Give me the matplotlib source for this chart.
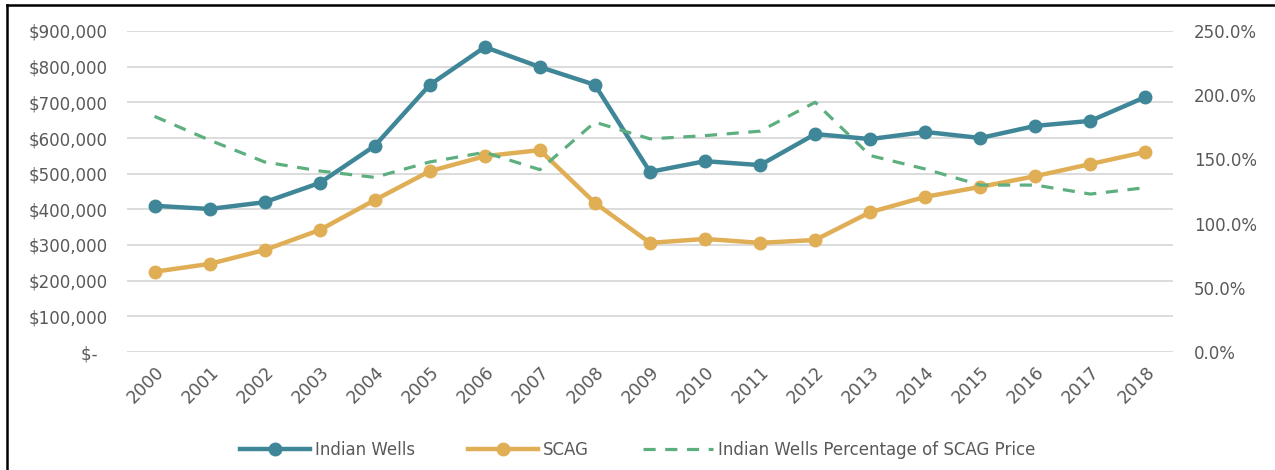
import matplotlib
matplotlib.use("Agg")
import matplotlib.pyplot as plt
from matplotlib.lines import Line2D
from matplotlib.ticker import FuncFormatter, MultipleLocator

years = [str(y) for y in range(2000, 2019)]
indian_wells = [410000, 401000, 420000, 474000, 578000, 749000, 855000, 799000, 749000,
                505000, 535000, 524000, 611000, 597000, 617000, 600000, 634000, 648000, 715000]
scag = [225000, 247000, 286000, 342000, 426000, 507000, 549000, 566000, 418000,
        306000, 317000, 306000, 314000, 392000, 435000, 463000, 493000, 527000, 561000]
pct_of_scag = [183.5, 165.0, 148.0, 141.0, 136.0, 148.0, 155.5, 142.0, 179.0,
               166.0, 168.5, 172.0, 194.5, 153.0, 142.5, 130.0, 130.0, 123.0, 128.0]

teal = "#3F8798"
gold = "#E0AE55"
green = "#5DAF7F"
gray = "#595959"

plt.rcParams['font.family'] = ['DejaVu Sans']

fig = plt.figure(figsize=(12.75, 4.7), dpi=100)
ax = fig.add_axes([127 / 1275, 118 / 470, (1173 - 127) / 1275, (352 - 31) / 470])
ax2 = ax.twinx()

x = list(range(len(years)))
l1, = ax.plot(x, indian_wells, color=teal, lw=3.2, marker='o', ms=9, label='Indian Wells', zorder=3)
l2, = ax.plot(x, scag, color=gold, lw=3.2, marker='o', ms=9, label='SCAG', zorder=3)
l3, = ax2.plot(x, pct_of_scag, color=green, lw=2.3, ls=(0, (3.8, 3)),
               label='Indian Wells Percentage of SCAG Price')

ax.set_xlim(-0.5, len(years) - 0.5)
ax.set_ylim(0, 900000)
ax2.set_ylim(0, 250)
ax.yaxis.set_major_locator(MultipleLocator(100000))
ax2.yaxis.set_major_locator(MultipleLocator(50))
ax.yaxis.set_major_formatter(FuncFormatter(lambda v, p: "$-  " if v == 0 else "${:,.0f}".format(v)))
ax2.yaxis.set_major_formatter(FuncFormatter(lambda v, p: "{:.1f}%".format(v)))

ax.set_xticks(x)
ax.set_xticklabels(years, rotation=45, ha='right', rotation_mode='anchor')
ax.grid(axis='y', color='#D9D9D9', lw=1.3)
ax.set_axisbelow(True)
for a in (ax, ax2):
    for s in a.spines.values():
        s.set_visible(False)
    a.tick_params(length=0, labelsize=12, labelcolor=gray)
ax.tick_params(axis='x', labelsize=12.5, pad=8)
ax.tick_params(axis='y', pad=14)
ax2.tick_params(axis='y', pad=15)

fig.legend(handles=[l1, l2, l3], loc='center', bbox_to_anchor=(0.5, 20 / 470), ncol=3,
           frameon=False, fontsize=12, labelcolor=gray, handlelength=4.2,
           columnspacing=3.2, handletextpad=0.3)

# screenshot border on left and top
fig.add_artist(Line2D([7 / 1275, 7 / 1275], [0, 1 - 5 / 470], transform=fig.transFigure, color='black', lw=1.8))
fig.add_artist(Line2D([7 / 1275, 1], [1 - 5 / 470, 1 - 5 / 470], transform=fig.transFigure, color='black', lw=1.8))

fig.savefig("out.png", dpi=100)
